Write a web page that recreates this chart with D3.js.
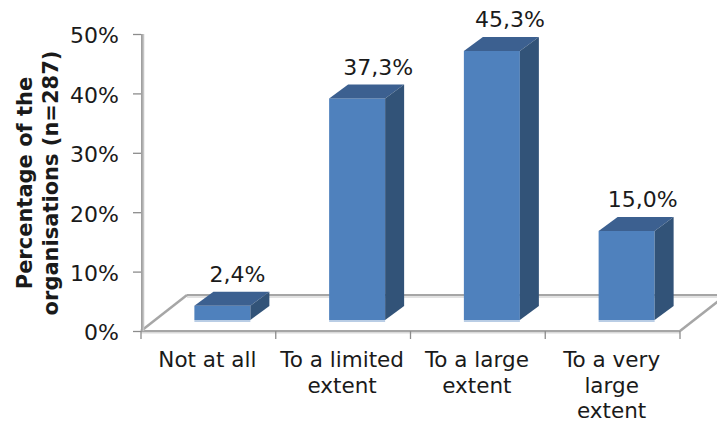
<!DOCTYPE html>
<html><head><meta charset="utf-8">
<script src="https://cdn.jsdelivr.net/npm/d3@7"></script>
<style>html,body{margin:0;padding:0;background:#fff}svg{display:block}text{font-family:"DejaVu Sans",sans-serif;fill:#1a1a1a}</style>
</head><body><svg id="c" width="717" height="423"></svg>
<script>
const categories = ["Not at all","To a limited extent","To a large extent","To a very large extent"];
const categoryLines = [["Not at all"],["To a limited","extent"],["To a large","extent"],["To a very","large","extent"]];
const values = [2.4,37.3,45.3,15.0];
const valueLabels = ["2,4%","37,3%","45,3%","15,0%"];
const yTicks = [0,10,20,30,40,50];
const titleLines = ["Percentage of the","organisations (n=287)"];

const svg = d3.select("#c");
const plotL=141, plotR=680, floorY=331, plotT=34;
const dx=46, dy=36;           // floor depth
const barDx=19, barDy=14;     // bar depth
const barInset=11;            // bar base above the front floor edge
const labelNudge=[0,6,3,1];   // horizontal label placement tweaks
const x = d3.scaleBand().domain(categories).range([plotL,plotR]).paddingInner(0).paddingOuter(0);
const y = d3.scaleLinear().domain([0,50]).range([floorY,plotT]);
const grey="#a6a6a6";

// floor
const floor = svg.append("g").attr("fill","none").attr("stroke",grey).attr("stroke-width",2.5);
floor.append("line").attr("x1",plotL+dx).attr("y1",floorY-dy+2).attr("x2",717).attr("y2",floorY-dy+2).attr("stroke","#e2e2e2").attr("stroke-width",2);
floor.append("line").attr("x1",plotL+dx).attr("y1",floorY-dy).attr("x2",717).attr("y2",floorY-dy).attr("stroke-width",2);
floor.append("line").attr("x1",plotL).attr("y1",floorY).attr("x2",plotL+dx).attr("y2",floorY-dy);
floor.append("line").attr("x1",plotR).attr("y1",floorY).attr("x2",plotR+dx).attr("y2",floorY-dy);

// front x axis + ticks
svg.append("line").attr("x1",plotL).attr("x2",plotR).attr("y1",floorY+1).attr("y2",floorY+1).attr("stroke","#dadada").attr("stroke-width",3);
svg.append("line").attr("x1",plotL).attr("x2",plotR).attr("y1",floorY).attr("y2",floorY).attr("stroke",grey).attr("stroke-width",2);
const edges = categories.map(c=>x(c)).concat([plotR]);
svg.append("g").selectAll("line").data(edges).join("line")
  .attr("x1",d=>d).attr("x2",d=>d).attr("y1",floorY).attr("y2",floorY+8).attr("stroke","#8c8c8c").attr("stroke-width",1.3);

// y axis
svg.append("line").attr("x1",plotL+2).attr("x2",plotL+2).attr("y1",plotT).attr("y2",floorY).attr("stroke","#c4c4c4").attr("stroke-width",2.5);
svg.append("line").attr("x1",plotL+.8).attr("x2",plotL+.8).attr("y1",plotT).attr("y2",floorY).attr("stroke","#a0a0a0").attr("stroke-width",1.6);
const yAxis = d3.axisLeft(y).tickValues(yTicks).tickFormat(d=>d+"%").tickSize(8).tickPadding(14);
const yg = svg.append("g").attr("transform",`translate(${plotL},0)`).call(yAxis);
yg.select(".domain").remove();
yg.selectAll("line").attr("stroke","#8c8c8c").attr("stroke-width",1.3);
yg.selectAll("text").attr("font-size",22).attr("font-family","DejaVu Sans").attr("fill","#1a1a1a").attr("dy","0.4em");

// bars
const barW=56;
const bars = svg.append("g").selectAll("g").data(categories).join("g");
const bx = c => x(c)+x.bandwidth()/2 - barW/2 + 14;
const topOf = (c,i)=> y(values[i]) - barInset;
const base = floorY-barInset;
bars.append("rect").attr("x",c=>bx(c)).attr("width",barW)
  .attr("y",(c,i)=>topOf(c,i)).attr("height",(c,i)=>base-topOf(c,i)).attr("fill","#4f81bd");
bars.append("line").attr("x1",c=>bx(c)).attr("x2",c=>bx(c)+barW).attr("y1",base+1).attr("y2",base+1).attr("stroke","#b9cde5").attr("stroke-width",2);
bars.append("polygon").attr("fill","#3c6090").attr("points",(c,i)=>{
  const a=bx(c),t=topOf(c,i);
  return [[a,t],[a+barDx,t-barDy],[a+barW+barDx,t-barDy],[a+barW,t]].join(" ");
});
bars.append("polygon").attr("fill","#325378").attr("points",(c,i)=>{
  const a=bx(c)+barW,t=topOf(c,i);
  return [[a,t],[a+barDx,t-barDy],[a+barDx,base-barDy],[a,base]].join(" ");
});

// value labels
svg.append("g").selectAll("text").data(categories).join("text")
  .attr("text-anchor","middle").attr("font-size",22)
  .attr("x",(c,i)=>bx(c)+barW/2+15+labelNudge[i])
  .attr("y",(c,i)=>topOf(c,i)-barDy-9.5)
  .text((c,i)=>valueLabels[i]);

// category labels
const cat = svg.append("g").selectAll("text").data(categories).join("text")
  .attr("text-anchor","middle").attr("font-size",21.5)
  .attr("x",c=>x(c)+x.bandwidth()/2-1).attr("y",367);
cat.selectAll("tspan").data((c,i)=>categoryLines[i]).join("tspan")
  .attr("x",function(){return d3.select(this.parentNode).attr("x")})
  .attr("dy",(d,i)=>i?25.5:0).text(d=>d);

// axis title
svg.append("g").selectAll("text").data(titleLines).join("text")
  .attr("text-anchor","middle").attr("font-size",21).attr("font-weight","bold")
  .attr("transform",(d,i)=>`translate(${31.5+i*26},183) rotate(-90)`).text(d=>d);
</script></body></html>
